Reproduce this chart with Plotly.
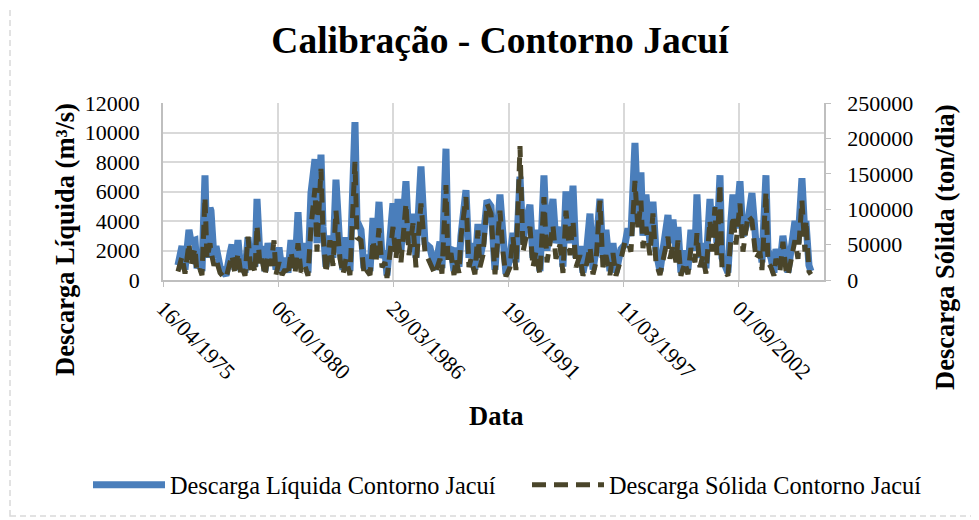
import pandas as pd
import plotly.graph_objects as go

# dias contados a partir de 16/04/1975 (primeira categoria do eixo)
dias = [
    260, 330, 382, 451, 486, 556, 590, 642, 677, 729,
    764, 816, 833, 885, 920, 990, 1042, 1094, 1163, 1198,
    1250, 1302, 1354, 1389, 1424, 1476, 1528, 1562, 1597, 1632,
    1684, 1719, 1771, 1823, 1875, 1927, 1962, 2014, 2066, 2118,
    2170, 2222, 2292, 2344, 2396, 2465, 2517, 2569, 2639, 2673,
    2743, 2778, 2830, 2899, 2951, 3003, 3073, 3125, 3177, 3246,
    3333, 3368, 3437, 3489, 3524, 3594, 3646, 3698, 3750, 3802,
    3854, 3889, 3958, 3993, 4045, 4080, 4132, 4218, 4271, 4340,
    4392, 4479, 4548, 4635, 4722, 4809, 4843, 4913, 4948, 5000,
    5052, 5086, 5139, 5173, 5260, 5312, 5347, 5416, 5468, 5503,
    5555, 5625, 5694, 5764, 5850, 5902, 5954, 6024, 6076, 6128,
    6198, 6250, 6302, 6371, 6423, 6475, 6545, 6614, 6666, 6770,
    6822, 6892, 6944, 6996, 7066, 7118, 7170, 7239, 7291, 7343,
    7413, 7465, 7517, 7586, 7638, 7690, 7760, 7812, 7864, 7951,
    8020, 8072, 8124, 8194, 8246, 8298, 8333, 8385, 8454, 8506,
    8558, 8628, 8715, 8767, 8801, 8854, 8906, 8940, 8992, 9062,
    9114, 9166, 9236, 9270, 9322, 9374, 9426, 9496, 9531, 9583,
    9617, 9670, 9704, 9756, 9808, 9860, 9895, 9947, 10017, 10069,
    10156, 10225, 10295, 10364, 10399, 10468, 10503, 10555, 10607, 10642,
    10711, 10763, 10815, 10850, 10902, 10972, 11024, 11093, 11145, 11162,
    11215, 11249,
]

# m3/s
descarga_liquida = [
    1000, 2300, 700, 3400, 2600, 2700, 800, 1300, 600, 7100,
    1500, 4900, 4700, 1500, 2300, 900, 500, 300, 1800, 2400,
    700, 2700, 600, 1200, 500, 2900, 800, 2000, 900, 5500,
    1500, 2300, 600, 2500, 1400, 2100, 700, 2200, 600, 1500,
    500, 2700, 800, 4600, 900, 2500, 500, 5900, 8200, 2500,
    8500, 3600, 900, 3000, 1500, 6800, 2000, 700, 2900, 600,
    10700, 4000, 3400, 800, 1700, 600, 4200, 2000, 5300, 1500,
    2000, 300, 3600, 5200, 2500, 5500, 2000, 6700, 2500, 4500,
    1500, 7700, 2500, 2200, 700, 2600, 800, 8900, 2000, 2200,
    600, 2200, 900, 3000, 6100, 1500, 2500, 700, 3800, 1500,
    2500, 5400, 5000, 700, 5800, 2500, 400, 1500, 3200, 1200,
    7000, 2500, 4000, 5100, 1500, 3400, 600, 7100, 2000, 5500,
    2500, 3600, 900, 6000, 2500, 6400, 1500, 2300, 500, 1500,
    4500, 700, 2000, 5500, 1500, 3400, 600, 2500, 500, 2100,
    2400, 3500, 3000, 9300, 4000, 7300, 3000, 5800, 2500, 5300,
    2000, 600, 3000, 4400, 2500, 4100, 2000, 3600, 500, 2000,
    700, 3400, 2000, 5800, 1500, 2500, 800, 5500, 3000, 5000,
    2500, 7100, 1500, 1000, 500, 4000, 5800, 3500, 6700, 3000,
    4000, 5900, 2500, 2600, 1200, 7100, 2000, 1500, 500, 2100,
    1000, 3000, 1200, 500, 2000, 4000, 2500, 6900, 3000, 4000,
    1000, 600,
]

# ton/dia
descarga_solida = [
    12000, 33000, 9000, 52000, 20000, 45000, 10000, 15000, 7000, 117000,
    30000, 52000, 40000, 20000, 30000, 10000, 5000, 3000, 25000, 35000,
    8000, 38000, 7000, 15000, 6000, 61000, 10000, 25000, 10000, 77000,
    20000, 30000, 6000, 35000, 20000, 56000, 8000, 25000, 7000, 15000,
    6000, 40000, 9000, 52000, 11000, 20000, 6000, 75000, 130000, 40000,
    157000, 66000, 10000, 56000, 20000, 98000, 30000, 8000, 30000, 7000,
    167000, 60000, 56000, 9000, 15000, 7000, 56000, 25000, 73000, 18000,
    25000, 3000, 50000, 75000, 30000, 60000, 25000, 108000, 35000, 80000,
    18000, 108000, 40000, 25000, 8000, 30000, 9000, 134000, 25000, 38000,
    7000, 30000, 10000, 61000, 117000, 18000, 30000, 8000, 70000, 18000,
    35000, 108000, 94000, 8000, 98000, 40000, 5000, 18000, 61000, 14000,
    189000, 40000, 60000, 75000, 18000, 40000, 7000, 117000, 25000, 77000,
    30000, 50000, 10000, 98000, 35000, 84000, 18000, 35000, 6000, 18000,
    47000, 8000, 25000, 112000, 18000, 35000, 7000, 38000, 6000, 30000,
    54000, 54000, 40000, 140000, 70000, 112000, 45000, 75000, 35000, 94000,
    25000, 7000, 40000, 61000, 30000, 50000, 25000, 56000, 6000, 25000,
    8000, 45000, 25000, 66000, 18000, 35000, 9000, 84000, 40000, 103000,
    35000, 136000, 18000, 12000, 6000, 60000, 91000, 50000, 108000, 40000,
    91000, 84000, 30000, 40000, 14000, 124000, 25000, 18000, 6000, 30000,
    12000, 54000, 14000, 6000, 25000, 56000, 30000, 112000, 40000, 84000,
    12000, 8000,
]

inicio = "1975-04-16"
rotulos_data = ["16/04/1975", "06/10/1980", "29/03/1986", "19/09/1991", "11/03/1997", "01/09/2002"]

datas = pd.Timestamp(inicio) + pd.to_timedelta(dias, unit="D")
ticks_x = pd.to_datetime(rotulos_data, format="%d/%m/%Y")

FONTE = "Liberation Serif, Times New Roman, serif"
# a página tem margem de 8px no body, então a figura é desenhada deslocada
OFF = 8
W, H = 979 - OFF, 520 - OFF
ML, MR, MT, MB = 155, 155, 95, 240


def px_x(p):
    return (p - OFF - ML) / (W - ML - MR)


def px_y(p):
    return (H - MB - (p - OFF)) / (H - MT - MB)


fig = go.Figure()

fig.add_trace(go.Scatter(
    x=datas, y=descarga_liquida,
    mode="lines",
    name="Descarga Líquida Contorno Jacuí",
    line=dict(color="#4A7EBB", width=7),
    legend="legend",
))

fig.add_trace(go.Scatter(
    x=datas, y=descarga_solida,
    mode="lines", yaxis="y2",
    name="Descarga Sólida Contorno Jacuí",
    line=dict(color="#4A452A", width=5, dash="14px,8px"),
    legend="legend2",
))

leg = dict(
    orientation="h", xref="container", yref="container",
    xanchor="left", yanchor="middle",
    y=(520 - 485) / H,
    font=dict(size=24.3, family=FONTE), bgcolor="rgba(0,0,0,0)",
    itemwidth=72, borderwidth=0,
)

fig.update_layout(
    width=W, height=H,
    margin=dict(l=ML, r=MR, t=MT, b=MB, autoexpand=False),
    paper_bgcolor="white", plot_bgcolor="white",
    font=dict(family=FONTE, color="black", size=22),
    title=dict(text="<b>Calibração - Contorno Jacuí</b>",
               x=(500 - OFF) / W, xanchor="center", y=1 - (40 - OFF) / H, yanchor="middle",
               font=dict(size=37.5, family=FONTE, color="black")),
    xaxis=dict(
        type="date", automargin=False,
        range=[pd.Timestamp(inicio), pd.Timestamp(inicio) + pd.Timedelta(days=11476)],
        tickvals=ticks_x, ticktext=rotulos_data, tickangle=45,
        tickfont=dict(size=22),
        showgrid=True, gridcolor="#D9D9D9", gridwidth=1.5,
        showline=True, linecolor="#BFBFBF", linewidth=1.5,
        ticks="outside", ticklen=5, tickcolor="#BFBFBF",
        zeroline=False,
    ),
    yaxis=dict(
        range=[0, 12000], dtick=2000, tickformat="d", automargin=False,
        showgrid=True, gridcolor="#D9D9D9", gridwidth=1.5,
        showline=True, linecolor="#BFBFBF", linewidth=1.5,
        zeroline=False, ticks="", ticklabelstandoff=17,
    ),
    yaxis2=dict(
        overlaying="y", side="right", automargin=False,
        range=[0, 250000], dtick=50000, tickformat="d",
        showgrid=False, zeroline=False,
        showline=True, linecolor="#BFBFBF", linewidth=1.5,
        ticks="outside", ticklen=5, tickcolor="#BFBFBF",
        ticklabelstandoff=12,
    ),
    legend=dict(leg, x=(88 - OFF) / W),
    legend2=dict(leg, x=(527 - OFF) / W),
    showlegend=True,
)

fig.add_annotation(text="<b>Descarga Líquida (m³/s)</b>", textangle=-90,
                   x=px_x(65), y=px_y(240), xref="paper", yref="paper",
                   xanchor="center", yanchor="middle",
                   showarrow=False, font=dict(size=26.5, family=FONTE))
fig.add_annotation(text="<b>Descarga Sólida (ton/dia)</b>", textangle=-90,
                   x=px_x(945), y=px_y(247), xref="paper", yref="paper",
                   xanchor="center", yanchor="middle",
                   showarrow=False, font=dict(size=26.5, family=FONTE))
fig.add_annotation(text="<b>Data</b>",
                   x=px_x(496), y=px_y(416), xref="paper", yref="paper",
                   xanchor="center", yanchor="middle",
                   showarrow=False, font=dict(size=26.5, family=FONTE))

# borda tracejada da área do gráfico
fig.add_shape(type="rect", xref="paper", yref="paper",
              x0=px_x(10), x1=px_x(972), y0=px_y(516), y1=px_y(5),
              line=dict(color="#D9D9D9", width=1.5, dash="6px,4px"),
              fillcolor="rgba(0,0,0,0)", layer="below")

fig.write_html("out.html")
